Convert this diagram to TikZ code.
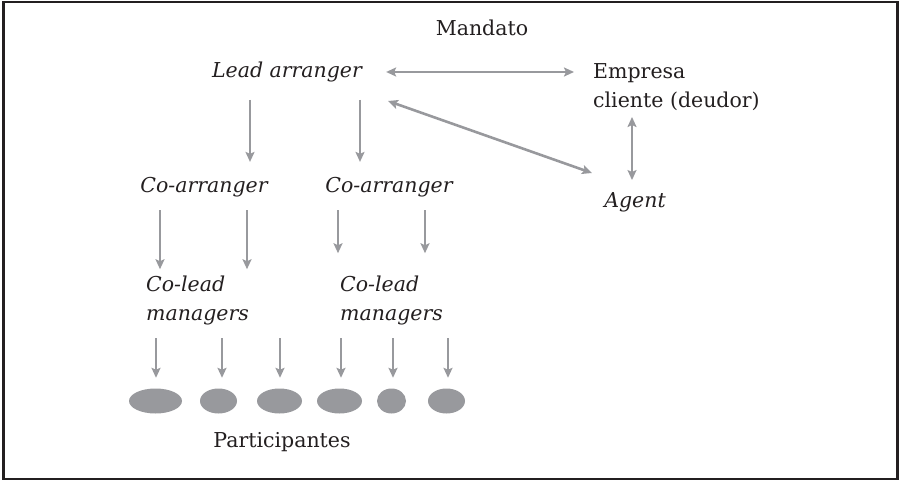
\documentclass[tikz,border=0pt]{standalone}
\usepackage{fontspec}
\setmainfont{DejaVu Serif}
\usetikzlibrary{arrows.meta,calc,positioning,shapes.geometric}
\definecolor{flowgray}{RGB}{152,153,157}
\definecolor{inkdark}{RGB}{35,31,32}
\tikzset{
  lbl/.style   = {inner sep=2pt, text=inkdark, font=\fontsize{20.5}{29}\selectfont},
  role/.style  = {lbl, font=\fontsize{20.5}{29}\selectfont\itshape},
  flow/.style  = {-{Stealth[length=10pt,width=9pt,inset=2pt]}, line width=2.6pt, draw=flowgray},
  both/.style  = {flow, {Stealth[length=10pt,width=9pt,inset=2pt]}-{Stealth[length=10pt,width=9pt,inset=2pt]}},
  bank/.style  = {ellipse, fill=flowgray, minimum height=25pt, inner sep=0pt},
}
\begin{document}
\begin{tikzpicture}[x=1pt,y=-1pt]
  \useasboundingbox (0,0) rectangle (899,481);
  \draw[line width=2.5pt, draw=inkdark] (3.5,2) rectangle (897.5,479);

  % top level
  \node[lbl]  (mandato) at (482,28) {Mandato};
  \node[role] (lead)    at (287,72) {Lead arranger};
  \node[lbl, anchor=west, align=left] (empresa) at (591,87) {Empresa\\cliente (deudor)};
  \node[role] (agent)   at (635,202) {Agent};

  % arrangers and managers
  \node[role] (coarrA) at (204,187) {Co-arranger};
  \node[role] (coarrB) at (389,187) {Co-arranger};
  \node[role, anchor=west, align=left] (coleadA) at (144,300) {Co-lead\\managers};
  \node[role, anchor=west, align=left] (coleadB) at (338,300) {Co-lead\\managers};

  % participants
  \foreach \x/\w/\n in {155.5/53/1, 218.5/37/2, 279.5/45/3, 339.5/45/4, 391.5/29/5, 446.5/37/6}
    \node[bank, minimum width=\w pt] (p\n) at (\x,401) {};
  \node[lbl] (part) at (282,442) {Participantes};

  % mandate and agency links
  \draw[both, shorten <=22pt, shorten >=17pt] (lead.east) -- (lead.east -| empresa.west);
  \coordinate (diagA) at (388,101);
  \coordinate (diagB) at (592,173);
  \draw[both] (diagA) -- (diagB);
  \coordinate (agTop) at (632,117);
  \draw[both, shorten >=10pt] (agTop) -- (agTop |- agent.north);

  % syndication chain
  \coordinate (leadL) at (250,100);
  \coordinate (leadR) at (360,100);
  \draw[flow, shorten >=13pt] (leadL) -- (leadL |- coarrA.north);
  \draw[flow, shorten >=13pt] (leadR) -- (leadR |- coarrB.north);
  \foreach \x/\n in {160/1, 247/2, 338/3, 425/4}
    \coordinate (c\n) at (\x,210);
  \draw[flow, shorten >=4pt] (c1) -- (c1 |- coleadA.north);
  \draw[flow, shorten >=4pt] (c2) -- (c2 |- coleadA.north);
  \draw[flow, shorten >=20pt] (c3) -- (c3 |- coleadB.north);
  \draw[flow, shorten >=20pt] (c4) -- (c4 |- coleadB.north);
  \foreach \x/\n in {156/1, 222/2, 280/3, 341/4, 393/5, 448/6} {
    \coordinate (t\n) at (\x,338);
    \draw[flow, shorten >=10.5pt] (t\n) -- (t\n |- p\n.north);
  }
\end{tikzpicture}
\end{document}
